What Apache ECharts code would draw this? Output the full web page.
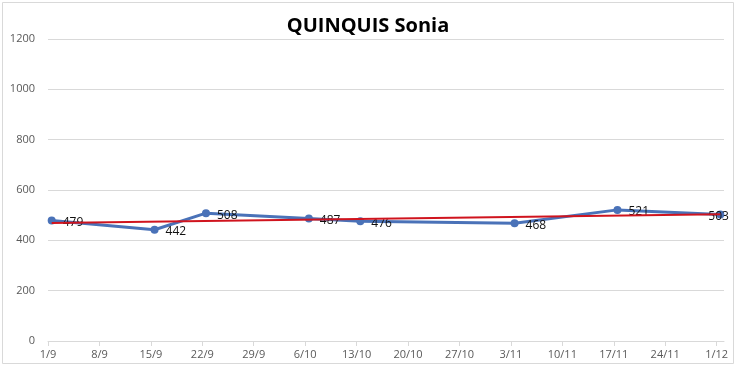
<!DOCTYPE html>
<html>
<head>
<meta charset="utf-8">
<script src="https://cdn.jsdelivr.net/npm/echarts@6/dist/echarts.min.js"></script>
<style>
html,body{margin:0;padding:0;background:#fff;}
#chart{width:736px;height:367px;}
</style>
</head>
<body>
<div id="chart"></div>
<script>
var titleText = 'QUINQUIS Sonia';
var tickLabels = ['1/9','8/9','15/9','22/9','29/9','6/10','13/10','20/10','27/10','3/11','10/11','17/11','24/11','1/12'];
var pointDates = ['1/9','15/9','22/9','6/10','13/10','3/11','17/11','1/12'];
var pointValues = [479, 442, 508, 487, 476, 468, 521, 503];
var yTicks = [0, 200, 400, 600, 800, 1000, 1200];

var YEAR = 2023;
var base = Date.UTC(YEAR, 8, 1);
function dayOffset(s) {
  var p = s.split('/');
  return (Date.UTC(YEAR, +p[1] - 1, +p[0]) - base) / 86400000;
}
// points sit in the middle of their day (date axis with day base unit)
var xs = pointDates.map(function (d) { return dayOffset(d) + 0.5; });
var lineData = xs.map(function (x, i) {
  var item = {value: [x, pointValues[i]]};
  if (i === xs.length - 1) {
    // last label pulled back inside the chart, as in the reference
    item.label = {offset: [-23, 2]};
  }
  return item;
});

// linear trend line (least squares)
var n = xs.length, mx = 0, my = 0;
for (var i = 0; i < n; i++) { mx += xs[i]; my += pointValues[i]; }
mx /= n; my /= n;
var sxy = 0, sxx = 0;
for (var i = 0; i < n; i++) { sxy += (xs[i] - mx) * (pointValues[i] - my); sxx += (xs[i] - mx) * (xs[i] - mx); }
var slope = sxy / sxx, icpt = my - slope * mx;
var trendData = [[xs[0], icpt + slope * xs[0]], [xs[n - 1], icpt + slope * xs[n - 1]]];

var lastTick = dayOffset(tickLabels[tickLabels.length - 1]);

var chart = echarts.init(document.getElementById('chart'), null, {renderer: 'canvas'});
chart.setOption({
  animation: false,
  backgroundColor: '#fff',
  title: {
    text: titleText,
    left: 'center',
    top: 11,
    textStyle: {fontFamily: 'Open Sans', fontWeight: 'bold', fontSize: 20, color: '#000'}
  },
  graphic: [{
    type: 'rect',
    shape: {x: 2.5, y: 2.5, width: 731, height: 361},
    style: {fill: 'none', stroke: '#d9d9d9', lineWidth: 1},
    silent: true
  }],
  grid: {left: 48, right: 12, top: 39, bottom: 26},
  xAxis: {
    type: 'value',
    min: 0,
    max: lastTick + 1,
    interval: 7,
    axisLine: {show: true, lineStyle: {color: '#d9d9d9', width: 1}},
    axisTick: {show: true, length: 5, lineStyle: {color: '#d9d9d9'}},
    splitLine: {show: false},
    axisLabel: {
      color: '#595959', fontSize: 11, fontFamily: 'Open Sans', margin: 8,
      showMaxLabel: false,
      formatter: function (v) {
        if (v % 7 !== 0) return '';
        var k = v / 7;
        return tickLabels[k] || '';
      }
    }
  },
  yAxis: {
    type: 'value',
    min: yTicks[0],
    max: yTicks[yTicks.length - 1],
    interval: yTicks[1] - yTicks[0],
    axisLine: {show: false},
    axisTick: {show: false},
    splitLine: {lineStyle: {color: '#d9d9d9', width: 1}},
    axisLabel: {
      color: '#595959', fontSize: 11, fontFamily: 'Open Sans', margin: 13,
      formatter: function (v) { return String(v); }
    }
  },
  series: [{
    type: 'line',
    data: lineData,
    symbol: 'circle',
    symbolSize: 8,
    z: 2,
    lineStyle: {color: '#4a72b8', width: 3},
    itemStyle: {color: '#4a72b8'},
    label: {
      show: true,
      position: 'right',
      distance: 7,
      offset: [0, 2],
      color: '#111',
      fontSize: 12,
      fontFamily: 'Open Sans'
    }
  }, {
    type: 'line',
    data: trendData,
    symbol: 'none',
    z: 3,
    lineStyle: {color: '#d0141e', width: 2},
    silent: true
  }]
});
</script>
</body>
</html>
